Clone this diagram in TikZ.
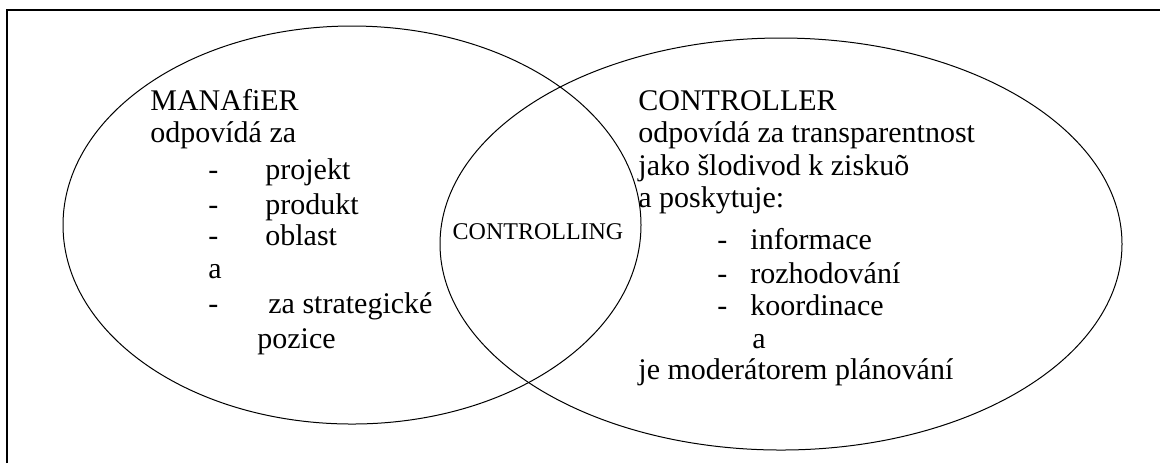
\documentclass[tikz,border=0pt]{standalone}
\usepackage{fontspec}
\setmainfont{Liberation Serif}
\usepackage{tikz}
\usetikzlibrary{shapes.geometric}

\begin{document}
\begin{tikzpicture}
		[x=0.5pt, y=-0.5pt, thin,
		ring/.style = {draw, ellipse, inner sep=0pt, line width=0.5pt},
		txt/.style = {anchor=base west, inner sep=0pt, font=\fontsize{15}{18}\selectfont},
		mid/.style = {inner sep=0pt, font=\fontsize{12}{14}\selectfont}]
	\useasboundingbox (0,0) rectangle (1160,463);
	\coordinate (c0) at (7,463);
	\coordinate (c1) at (7,10);
	\coordinate (c2) at (1160,10);
	\draw[line width=0.8pt] (c0) -- (c1) -- (c2);
	% the two fields
	\node[ring, minimum width=289pt, minimum height=199pt] (mgr) at (352,225) {};
	\node[ring, minimum width=341pt, minimum height=206pt] (ctl) at (781,244) {};
	\node[mid] (both) at (538,232) {CONTROLLING};
	% manager side
	\node[txt] (m1) at (150,110) {MANAfiER};
	\node[txt] (m2) at (150,142) {odpovídá za};
	\node[txt] (m3) at (208,179) {-};
	\node[txt] (m3t) at (265,179) {projekt};
	\node[txt] (m4) at (208,214) {-};
	\node[txt] (m4t) at (265,214) {produkt};
	\node[txt] (m5) at (208,245) {-};
	\node[txt] (m5t) at (265,245) {oblast};
	\node[txt] (m6) at (208,278) {a};
	\node[txt] (m7) at (208,313) {-};
	\node[txt] (m7t) at (268,313) {za strategické};
	\node[txt] (m8) at (257,348) {pozice};
	% controller side
	\node[txt] (k1) at (638,110) {CONTROLLER};
	\node[txt] (k2) at (638,142) {odpovídá za transparentnost};
	\node[txt] (k3) at (638,175) {jako šlodivod k ziskuõ};
	\node[txt] (k4) at (638,207) {a poskytuje:};
	\node[txt] (k5) at (717,249) {-};
	\node[txt] (k5t) at (750,249) {informace};
	\node[txt] (k6) at (717,283) {-};
	\node[txt] (k6t) at (750,283) {rozhodování};
	\node[txt] (k7) at (717,315) {-};
	\node[txt] (k7t) at (750,315) {koordinace};
	\node[txt] (k8) at (752,348) {a};
	\node[txt] (k9) at (638,379) {je moderátorem plánování};
\end{tikzpicture}
\end{document}
